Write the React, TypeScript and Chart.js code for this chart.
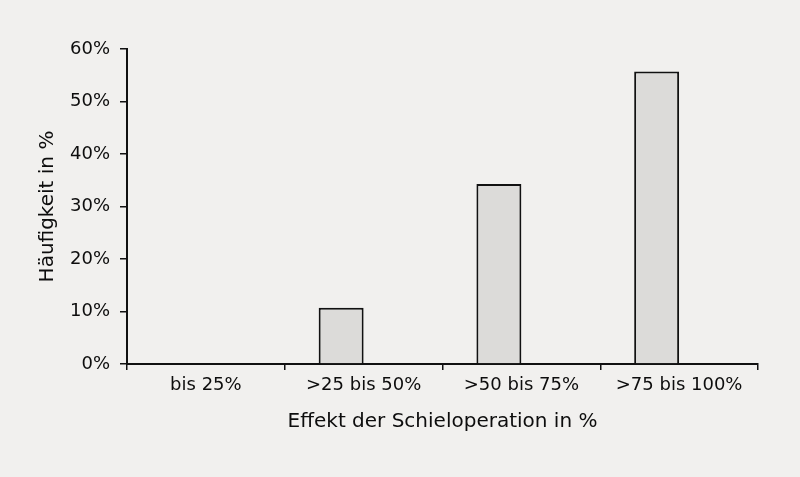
import React, { useEffect, useRef } from "react";
import { Chart, registerables } from "chart.js";

Chart.register(...registerables);

// categories on the x axis
const categories = ["bis 25%", ">25 bis 50%", ">50 bis 75%", ">75 bis 100%"];
// share of patients in percent
const haeufigkeit = [0, 10.7, 34.3, 55.7];
// empty second series (keeps the bars in the left half of each group)
const leer = [null, null, null, null];

const App = () => {
  const canvasRef = useRef<HTMLCanvasElement>(null);

  useEffect(() => {
    document.body.style.margin = "0";
    document.body.style.background = "#f1f0ee";
    if (!canvasRef.current) return;
    const ctx = canvasRef.current.getContext("2d");
    if (!ctx) return;

    const font = "'DejaVu Sans', Verdana, sans-serif";
    const textColor = "#0d0d0d";

    const chart = new Chart(ctx, {
      type: "bar",
      data: {
        labels: categories,
        datasets: [
          {
            label: "Häufigkeit",
            data: haeufigkeit,
            backgroundColor: "#dcdbd9",
            borderColor: "#111111",
            borderWidth: 2,
            barPercentage: 1,
            categoryPercentage: 0.57,
          },
          {
            label: "leer",
            data: leer,
            backgroundColor: "transparent",
            barPercentage: 1,
            categoryPercentage: 0.57,
          },
        ],
      },
      options: {
        responsive: false,
        animation: false,
        layout: { padding: { left: 0, right: 42, top: 49, bottom: 0 } },
        plugins: {
          legend: { display: false },
          tooltip: { enabled: false },
        },
        scales: {
          x: {
            afterFit: (scale: any) => {
              scale.height = 113;
            },
            grid: {
              drawOnChartArea: false,
              drawTicks: true,
              tickLength: 6,
              tickColor: "#111111",
              lineWidth: 1.5,
            },
            border: { display: true, color: "#111111", width: 2 },
            ticks: {
              color: textColor,
              padding: 5,
              font: { family: font, size: 18 },
            },
            title: {
              display: true,
              text: "Effekt der Schieloperation in %",
              color: textColor,
              font: { family: font, size: 20 },
              padding: { top: 0, bottom: 43 },
            },
          },
          y: {
            min: 0,
            max: 60,
            afterFit: (scale: any) => {
              scale.width = 127;
            },
            grid: {
              drawOnChartArea: false,
              drawTicks: true,
              tickLength: 7,
              tickColor: "#111111",
              lineWidth: 1.5,
            },
            border: { display: true, color: "#111111", width: 2 },
            ticks: {
              stepSize: 10,
              color: textColor,
              padding: 10,
              font: { family: font, size: 18 },
              callback: (v: any) => v + "%",
            },
            title: {
              display: true,
              text: "Häufigkeit in %",
              color: textColor,
              font: { family: font, size: 20 },
              padding: { top: 36, bottom: 0 },
            },
          },
        },
      },
    });

    return () => {
      chart.destroy();
    };
  }, []);

  return (
    <div style={{ width: 800, height: 477, background: "#f1f0ee" }}>
      <canvas ref={canvasRef} width={800} height={477} style={{ display: "block" }}></canvas>
    </div>
  );
};

export default App;
